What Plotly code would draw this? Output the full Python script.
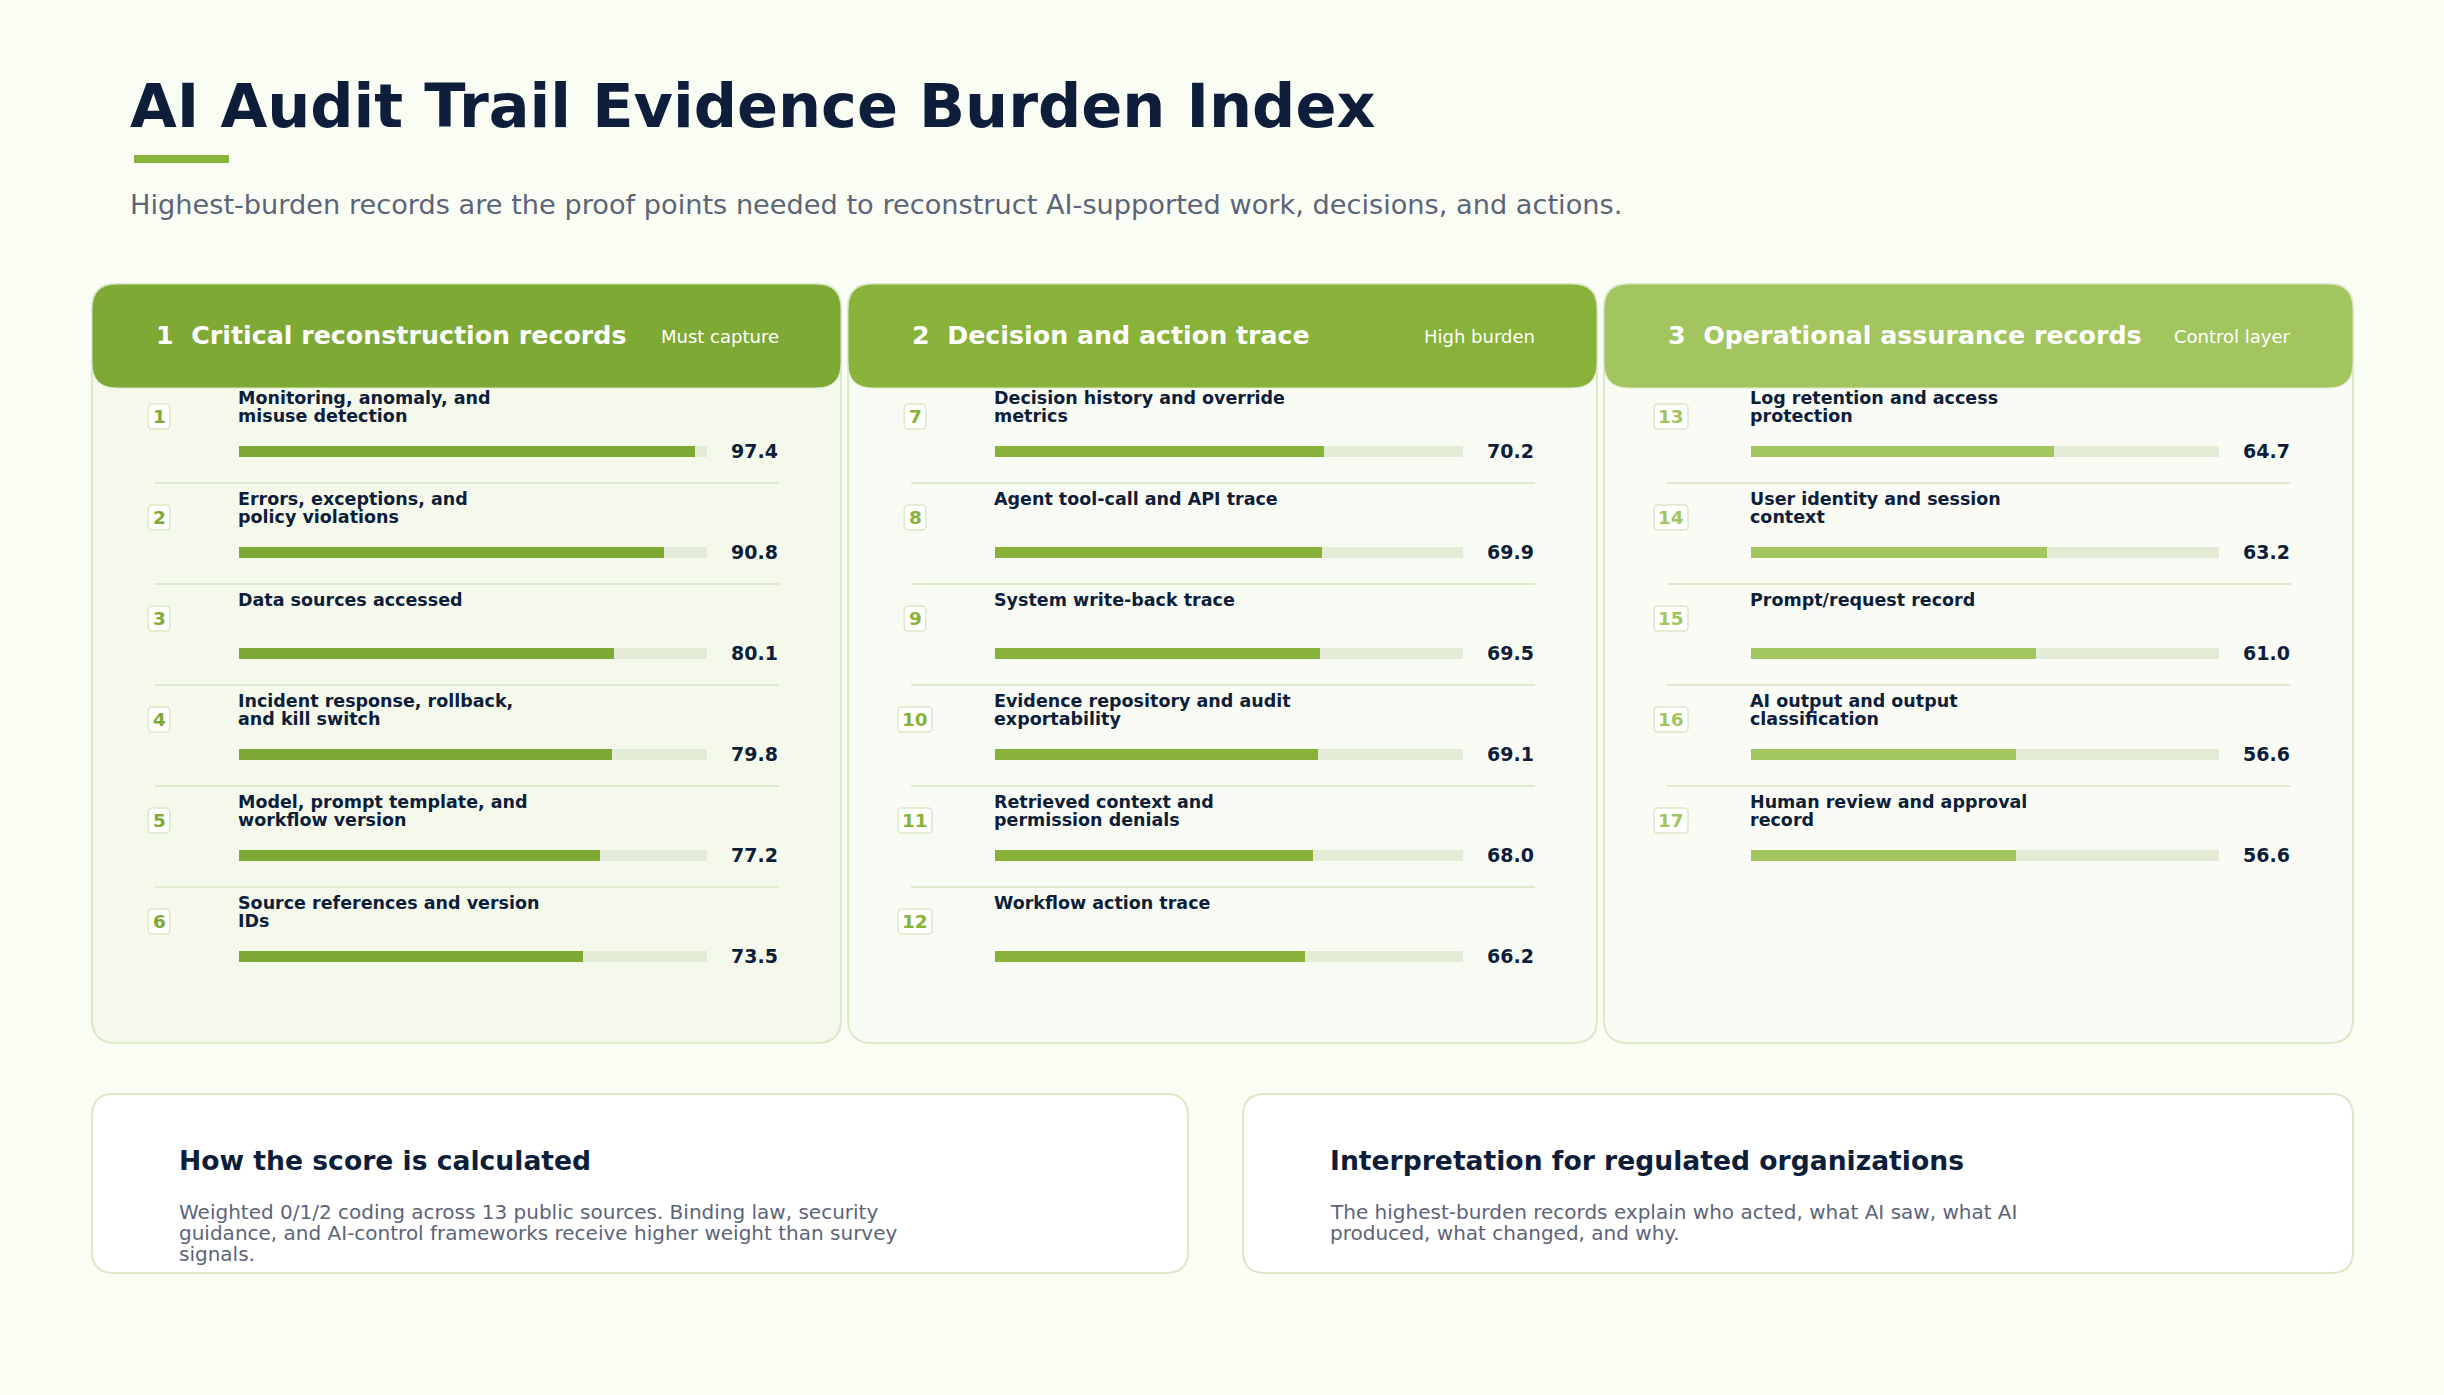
import textwrap
import plotly.graph_objects as go

W, H = 2444, 1395

# ---------------- data ----------------
title = "AI Audit Trail Evidence Burden Index"
subtitle = "Highest-burden records are the proof points needed to reconstruct AI-supported work, decisions, and actions."

group_names = ["Critical reconstruction records", "Decision and action trace", "Operational assurance records"]
group_tags = ["Must capture", "High burden", "Control layer"]

g1_labels = ["Monitoring, anomaly, and misuse detection", "Errors, exceptions, and policy violations",
             "Data sources accessed", "Incident response, rollback, and kill switch",
             "Model, prompt template, and workflow version", "Source references and version IDs"]
g1_values = [97.4, 90.8, 80.1, 79.8, 77.2, 73.5]

g2_labels = ["Decision history and override metrics", "Agent tool-call and API trace",
             "System write-back trace", "Evidence repository and audit exportability",
             "Retrieved context and permission denials", "Workflow action trace"]
g2_values = [70.2, 69.9, 69.5, 69.1, 68.0, 66.2]

g3_labels = ["Log retention and access protection", "User identity and session context",
             "Prompt/request record", "AI output and output classification",
             "Human review and approval record"]
g3_values = [64.7, 63.2, 61.0, 56.6, 56.6]

card_titles = ["How the score is calculated", "Interpretation for regulated organizations"]
card1_lines = ["Weighted 0/1/2 coding across 13 public sources. Binding law, security",
               "guidance, and AI-control frameworks receive higher weight than survey",
               "signals."]
card2_lines = ["The highest-burden records explain who acted, what AI saw, what AI",
               "produced, what changed, and why."]

# ---------------- style ----------------
FONT = "DejaVu Sans"
BG = "#fafdf4"
NAVY = "#0e1e3a"
GRAY = "#5c6478"
GREENS = ["#7da934", "#88b23a", "#a3c55f"]
PANEL_FILL = ["#f4f9ec", "#f8fbf3", "#f9fbf4"]
BORDER = "#dce8c8"
TRACK = "#e4ebd7"

groups = [(g1_labels, g1_values), (g2_labels, g2_values), (g3_labels, g3_values)]

def rrect(x0, y0, x1, y1, r):
    return (f"M{x0+r},{y0} L{x1-r},{y0} Q{x1},{y0} {x1},{y0+r} L{x1},{y1-r} "
            f"Q{x1},{y1} {x1-r},{y1} L{x0+r},{y1} Q{x0},{y1} {x0},{y1-r} "
            f"L{x0},{y0+r} Q{x0},{y0} {x0+r},{y0} Z")

shapes = []
ann = []

def text(x, y, s, size, color, bold=False, xanchor="left", yanchor="middle"):
    ann.append(dict(x=x, y=y, xref="x", yref="y", text=s, showarrow=False,
                    xanchor=xanchor, yanchor=yanchor,
                    font=dict(family=FONT, size=size, color=color,
                              weight="bold" if bold else "normal")))

# title block
text(128, 106, title, 60.5, NAVY, bold=True)
shapes.append(dict(type="rect", xref="x", yref="y", x0=134, x1=229, y0=155, y1=163,
                   fillcolor="#8ab33a", line=dict(width=0), layer="below"))
text(128, 204, subtitle, 27.2, GRAY)

# panels
PANEL_W = 749
PANEL_STEP = 756
PANEL_TOP, PANEL_BOT = 284, 1043
HEAD_BOT = 388
ROW = 101
TRACK_OFF0, TRACK_OFF1 = 147, 615

fig = go.Figure()

for k, (labels, values) in enumerate(groups):
    L = 92 + PANEL_STEP * k
    R = L + PANEL_W
    shapes.append(dict(type="path", xref="x", yref="y", path=rrect(L, PANEL_TOP, R, PANEL_BOT, 24),
                       fillcolor=PANEL_FILL[k], line=dict(color=BORDER, width=2), layer="below"))
    shapes.append(dict(type="path", xref="x", yref="y", path=rrect(L, PANEL_TOP, R, HEAD_BOT, 25),
                       fillcolor=GREENS[k], line=dict(color=BORDER, width=1), layer="below"))
    text(L + 62, 335.5, f"{k+1}\u00a0\u00a0{group_names[k]}", 25.3, "#ffffff", bold=True)
    text(R - 60, 336, group_tags[k], 18, "#ffffff", xanchor="right")

    start_rank = 1 + sum(len(g[0]) for g in groups[:k])
    for i, (lab, val) in enumerate(zip(labels, values)):
        base = ROW * i
        rank = start_rank + i
        nd = len(str(rank))
        bw = 9 + 12.5 * nd
        cx = L + 67
        shapes.append(dict(type="path", xref="x", yref="y",
                           path=rrect(cx - bw / 2, 404 + base, cx + bw / 2, 429 + base, 4),
                           fillcolor="#ffffff", line=dict(color=BORDER, width=1.5), layer="below"))
        text(cx, 416 + base, str(rank), 18.5, GREENS[k], bold=True, xanchor="center")
        lines = textwrap.wrap(lab, 29)
        for j, ln in enumerate(lines):
            text(L + 144, 398 + base + 18 * j, ln, 17.5, NAVY, bold=True)
        text(L + 688, 450.5 + base, f"{val:.1f}", 19, NAVY, bold=True, xanchor="right")
        if i < len(labels) - 1:
            shapes.append(dict(type="line", xref="x", yref="y", x0=L + 63, x1=L + 687,
                               y0=483 + base, y1=483 + base,
                               line=dict(color="#dfe9cd", width=2), layer="below"))

    xa = f"x{k+2}"
    rows = list(range(len(values)))
    fig.add_trace(go.Bar(x=[100] * len(values), y=rows, orientation="h", width=0.109,
                         marker=dict(color=TRACK, line=dict(width=0)), xaxis=xa, yaxis="y2",
                         hoverinfo="skip", showlegend=False))
    fig.add_trace(go.Bar(x=values, y=rows, orientation="h", width=0.109,
                         marker=dict(color=GREENS[k], line=dict(width=0)), xaxis=xa, yaxis="y2",
                         hovertext=labels, hoverinfo="text+x", showlegend=False))

# bottom cards
cards = [(92, 1188, card1_lines), (1243, 2353, card2_lines)]
for c, (x0, x1, lines) in enumerate(cards):
    shapes.append(dict(type="path", xref="x", yref="y", path=rrect(x0, 1094, x1, 1273, 22),
                       fillcolor="#ffffff", line=dict(color=BORDER, width=2), layer="below"))
    text(x0 + 85, 1160.5, card_titles[c], 26.6, NAVY, bold=True)
    for j, ln in enumerate(lines):
        text(x0 + 85, 1212 + 20.8 * j, ln, 20, GRAY)

# base axes (pixel space)
layout_axes = dict(
    xaxis=dict(domain=[0, 1], range=[0, W], visible=False, fixedrange=True),
    yaxis=dict(domain=[0, 1], range=[H, 0], visible=False, fixedrange=True),
)
# row axis: row centres at 451.5 + 101*i
row_top_px = 451.5 - ROW / 2
row_bot_px = 451.5 + 5 * ROW + ROW / 2
layout_axes["yaxis2"] = dict(domain=[1 - row_bot_px / H, 1 - row_top_px / H], range=[5.5, -0.5],
                             visible=False, fixedrange=True, anchor="x2")
for k in range(3):
    L = 92 + PANEL_STEP * k
    layout_axes[f"xaxis{k+2}"] = dict(domain=[(L + TRACK_OFF0) / W, (L + TRACK_OFF1) / W],
                                      range=[0, 100], visible=False, fixedrange=True, anchor="y2")

# invisible trace on base axes so they render
fig.add_trace(go.Scatter(x=[0, W], y=[0, H], mode="markers", marker=dict(opacity=0),
                         hoverinfo="skip", showlegend=False, xaxis="x", yaxis="y"))

fig.update_layout(width=W, height=H, margin=dict(l=0, r=0, t=0, b=0),
                  paper_bgcolor=BG, plot_bgcolor="rgba(0,0,0,0)",
                  barmode="overlay", bargap=0, shapes=shapes, annotations=ann,
                  font=dict(family=FONT), **layout_axes)

fig.write_html("out.html", config={"displayModeBar": False},
               post_script="document.body.style.margin='0';")
